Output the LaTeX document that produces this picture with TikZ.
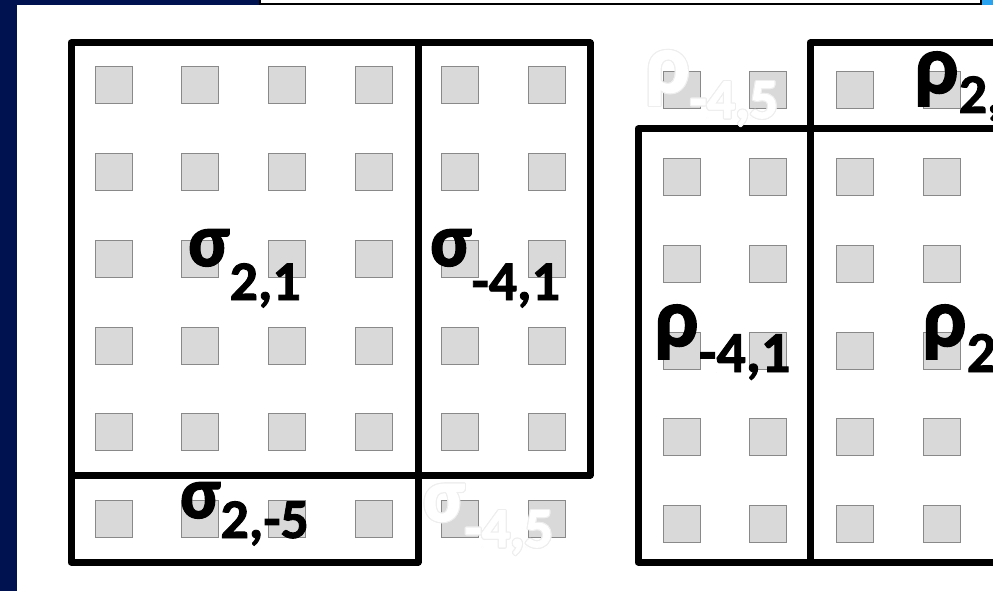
\documentclass[tikz,border=0pt]{standalone}
\usepackage{fontspec}
\setmainfont{Carlito}
\newfontfamily\labelfont{Carlito}[UprightFont=*-Bold,FakeBold=1.6]

\definecolor{slideblue}{RGB}{0,18,80}
\definecolor{titleblue}{RGB}{41,163,240}
\definecolor{cellgray}{RGB}{217,217,217}
\definecolor{celledge}{RGB}{137,137,137}
\definecolor{ghostgray}{RGB}{238,238,238}

\newcommand{\sublabel}[5]{{\fontsize{#4}{#4}\selectfont #1}\raisebox{-#3pt}{\fontsize{#5}{#5}\selectfont #2}}

\tikzset{
    cell/.style={fill=cellgray,draw=celledge,line width=1pt},
    frame/.style={draw=black,line width=7pt,line join=round,line cap=round},
    lbl/.style={anchor=base west,inner sep=0pt,font=\labelfont\bfseries}
}

\begin{document}
\begin{tikzpicture}[x=1pt,y=-1pt]
        \useasboundingbox (0,0) rectangle (993,591);
        \clip (0,0) rectangle (993,591);

        % slide background
        \fill[slideblue] (0,0) rectangle (993,591);
        \fill[white] (17,5) rectangle (993,591);
        \draw[fill=white,line width=1.5pt] (260,-5) rectangle (981,4);
        \fill[titleblue] (982,-1) rectangle (994,5);

        % cells
        \foreach \i in {0,...,5}
            \foreach \j in {0,...,5}
                \draw[cell] ({95+86.7*\i},{67+86.7*\j}) rectangle ++(37,37);
        \foreach \i in {0,...,3}
            \foreach \j in {0,...,5}
                \draw[cell] ({663+86.7*\i},{72+86.7*\j}) rectangle ++(37,37);

        % sigma blocks
        \draw[frame] (71,43) rectangle (590,475);
        \draw[frame] (71,475) rectangle (418,562);
        \draw[frame] (418,43) -- (418,475);

        % rho blocks
        \draw[frame] (638,129) rectangle (810,562);
        \draw[frame] (810,43) rectangle (1020,562);
        \draw[frame] (810,129) -- (1020,129);

        % ghost labels
        \foreach \a in {0,30,...,330} {
            \node[lbl,text=ghostgray,shift={(\a:1.1)}] at (423,521)
                {\sublabel{σ}{-4,5}{26}{76}{56}};
            \node[lbl,text=ghostgray,shift={(\a:1.1)}] at (645,92)
                {\sublabel{ρ}{-4,5}{26}{84}{56}};
        }
        \node[lbl,text=white] (sm45) at (423,521)
            {\sublabel{σ}{-4,5}{26}{76}{56}};
        \node[lbl,text=white] (rm45) at (645,92)
            {\sublabel{ρ}{-4,5}{26}{84}{56}};

        % labels
        \node[lbl] (s21) at (188,266) {\sublabel{σ}{2,1}{34}{76}{56}};
        \node[lbl] (sm41) at (430,266) {\sublabel{σ}{-4,1}{34}{76}{56}};
        \node[lbl] (s2m5) at (180,518) {\sublabel{σ}{2,-5}{20}{74}{56}};
        \node[lbl] (rm41) at (654,346) {\sublabel{ρ}{-4,1}{26}{84}{58}};
        \node[lbl] (r21) at (922,346) {\sublabel{ρ}{2,1}{26}{84}{58}};
        \node[lbl] (r25) at (914,93) {\sublabel{ρ}{2,5}{20}{84}{56}};
    \end{tikzpicture}
\end{document}
